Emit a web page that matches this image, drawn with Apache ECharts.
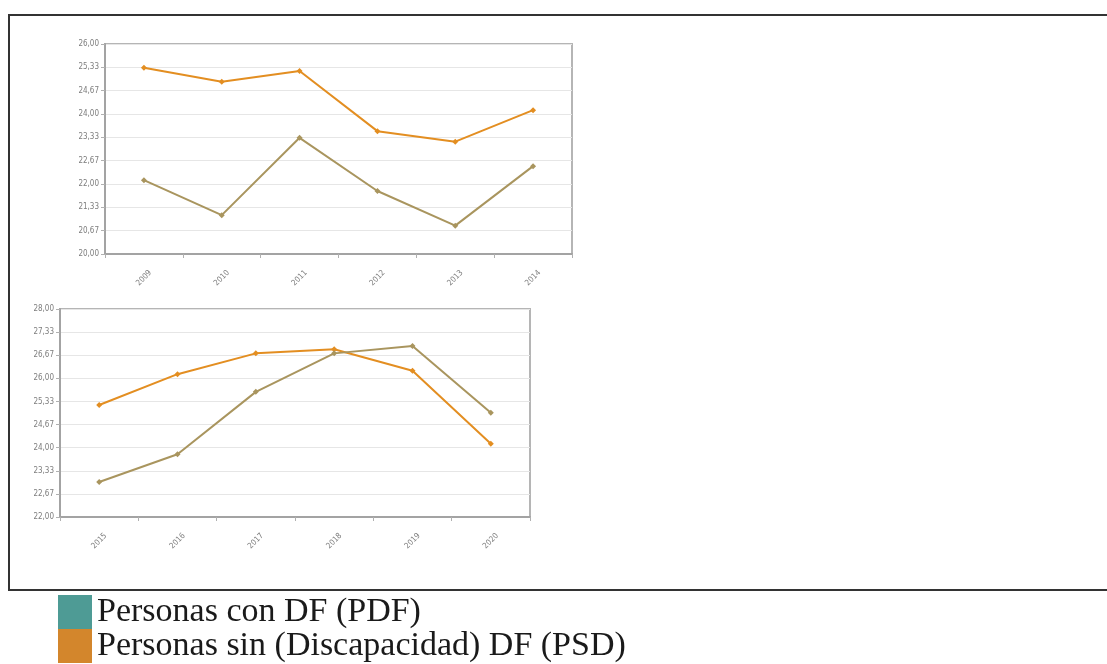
<!DOCTYPE html>
<html>
<head>
<meta charset="utf-8">
<script src="https://cdn.jsdelivr.net/npm/echarts@6/dist/echarts.min.js"></script>
<style>
html,body{margin:0;padding:0;background:#fff;}
#chart{width:1107px;height:664px;}
</style>
</head>
<body>
<div id="chart"></div>
<script>
var namePDF = 'Personas con DF (PDF)';
var namePSD = 'Personas sin (Discapacidad) DF (PSD)';

var yearsTop = ['2009','2010','2011','2012','2013','2014'];
var psdTop = [25.32, 24.92, 25.23, 23.51, 23.21, 24.11];
var pdfTop = [22.11, 21.11, 23.32, 21.80, 20.81, 22.51];

var yearsBottom = ['2015','2016','2017','2018','2019','2020'];
var psdBottom = [25.23, 26.12, 26.72, 26.84, 26.22, 24.11];
var pdfBottom = [23.01, 23.81, 25.61, 26.72, 26.93, 25.01];

var colorPSD = '#E38E21';
var colorPDF = '#A9955E';
var legendPDF = '#4E9B95';
var legendPSD = '#D3862C';

function fmt(v){ return v.toFixed(2).replace('.', ','); }

function xAxis(idx, data){
  return {
    type:'category', gridIndex:idx, data:data, boundaryGap:true,
    axisLine:{lineStyle:{color:'#a3a3a3', width:2}},
    axisTick:{show:true, length:4, lineStyle:{color:'#b0b0b0'}},
    axisLabel:{rotate:45, align:'center', verticalAlign:'middle', color:'#7d7d7d', fontSize:8, fontFamily:'DejaVu Sans Condensed, DejaVu Sans', margin:24}
  };
}
function yAxis(idx, min, max){
  return {
    type:'value', gridIndex:idx, min:min, max:max, interval:2/3,
    axisLine:{show:true, lineStyle:{color:'#a3a3a3', width:2}},
    axisTick:{show:true, length:4, lineStyle:{color:'#b0b0b0'}},
    splitLine:{lineStyle:{color:'#e6e6e6', width:1}},
    axisLabel:{color:'#7d7d7d', fontSize:8, fontFamily:'DejaVu Sans Condensed, DejaVu Sans', margin:6, formatter:fmt}
  };
}
function line(name, xi, data, color){
  return {
    type:'line', name:name, xAxisIndex:xi, yAxisIndex:xi, data:data,
    symbol:'diamond', symbolSize:6, showSymbol:true,
    lineStyle:{color:color, width:2}, itemStyle:{color:color},
    emphasis:{disabled:true}, animation:false
  };
}
function legend(top, name, color){
  return {
    orient:'vertical', left:58, top:top, itemGap:0, padding:0,
    itemWidth:34, itemHeight:34, icon:'rect', selectedMode:false,
    textStyle:{fontFamily:'Liberation Serif, DejaVu Serif, serif', fontSize:34, color:'#1a1a1a', lineHeight:34},
    data:[{name:name, itemStyle:{color:color}}]
  };
}

var chart = echarts.init(document.getElementById('chart'));
chart.setOption({
  animation:false,
  backgroundColor:'#fff',
  grid:[
    {left:105, top:44, width:467, height:210, show:true, borderColor:'#b5b5b5', borderWidth:2},
    {left:60, top:309, width:470, height:208, show:true, borderColor:'#b5b5b5', borderWidth:2}
  ],
  xAxis:[xAxis(0, yearsTop), xAxis(1, yearsBottom)],
  yAxis:[yAxis(0, 20, 26), yAxis(1, 22, 28)],
  legend:[legend(595, namePDF, legendPDF), legend(629, namePSD, legendPSD)],
  graphic:[
    {type:'rect', shape:{x:9, y:15, width:1110, height:575}, style:{fill:'none', stroke:'#333', lineWidth:2}, z:-1}
  ],
  series:[
    line(namePSD, 0, psdTop, colorPSD),
    line(namePDF, 0, pdfTop, colorPDF),
    line(namePSD, 1, psdBottom, colorPSD),
    line(namePDF, 1, pdfBottom, colorPDF)
  ]
});
</script>
</body>
</html>
